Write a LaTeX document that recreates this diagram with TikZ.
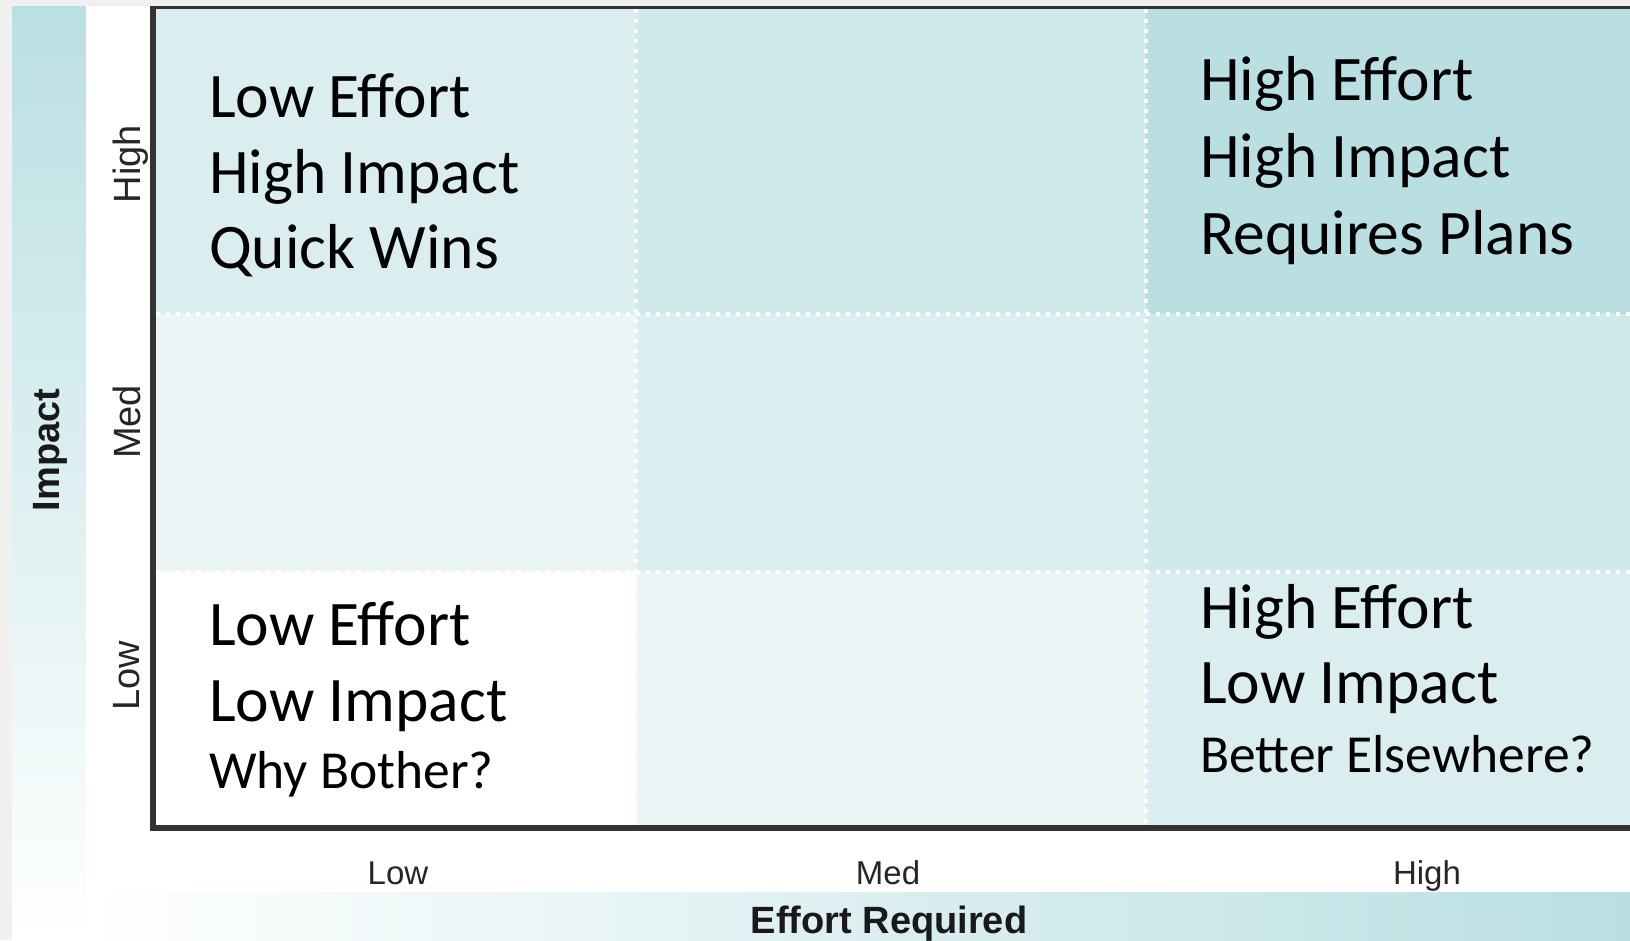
\documentclass[tikz,border=0pt]{standalone}
\usepackage{fontspec}
\setmainfont{Carlito}
\newfontfamily\arialf{Liberation Sans}
\definecolor{outerbg}{HTML}{F0F0F0}
\definecolor{teal}{HTML}{BADFE2}
\definecolor{tealmid}{HTML}{E4F2F3}
\definecolor{cA}{HTML}{DAEDEF}
\definecolor{cB}{HTML}{D0E9EA}
\definecolor{cC}{HTML}{BADFE2}
\definecolor{cD}{HTML}{ECF5F6}
\definecolor{framec}{HTML}{333333}
\tikzset{
  bigtxt/.style={font=\fontsize{63.5}{63.5}\selectfont, inner sep=0, anchor=base west, text=black},
  smalltxt/.style={font=\fontsize{53.5}{53.5}\selectfont, inner sep=0, anchor=base west, text=black},
  ticklbl/.style={font=\arialf\fontsize{33}{33}\selectfont, inner sep=0, anchor=base, text=black!85},
  sidelbl/.style={font=\arialf\fontsize{38}{38}\selectfont, inner sep=0, anchor=base, rotate=90, text=black!85},
  axislbl/.style={font=\arialf\bfseries\fontsize{38}{38}\selectfont, inner sep=0, anchor=base, text=black!90},
  gridline/.style={white, line width=4, dash pattern=on 4 off 6},
}
\begin{document}
\begin{tikzpicture}[x=1pt,y=-1pt]
\useasboundingbox (0,0) rectangle (1630,940);
% outer background
\fill[outerbg] (0,0) rectangle (1630,940);
% left gradient strip
\shade[top color=teal, middle color=tealmid, bottom color=white] (12,6) rectangle (86,940);
% white panel
\fill[white] (86,6) rectangle (1630,892);
% bottom gradient strip
\shade[left color=white, middle color=tealmid, right color=teal] (86,892) rectangle (1630,940);
% cells
\fill[cA] (156,9) rectangle (636,314);
\fill[cB] (636,9) rectangle (1146,314);
\fill[cC] (1146,9) rectangle (1630,314);
\fill[cD] (156,314) rectangle (636,572);
\fill[cA] (636,314) rectangle (1146,572);
\fill[cB] (1146,314) rectangle (1630,572);
\fill[white] (156,572) rectangle (636,825);
\fill[cD] (636,572) rectangle (1146,825);
\fill[cA] (1146,572) rectangle (1630,825);
% dotted grid
\draw[gridline] (636,9) -- (636,825);
\draw[gridline] (1146,9) -- (1146,825);
\draw[gridline] (156,314) -- (1630,314);
\draw[gridline] (156,572) -- (1630,572);
% frame
\draw[framec, line width=3] (150,7.5) -- (1630,7.5);
\draw[framec, line width=6] (153,6) -- (153,828) -- (1630,828);
% quadrant texts
\node[bigtxt] (tl1) at (209,117) {Low Effort};
\node[bigtxt] (tl2) at (209,193) {High Impact};
\node[bigtxt] (tl3) at (209,268) {Quick Wins};
\node[bigtxt] (tr1) at (1200,100) {High Effort};
\node[bigtxt] (tr2) at (1200,177) {High Impact};
\node[bigtxt] (tr3) at (1200,254) {Requires Plans};
\node[bigtxt] (bl1) at (209,645) {Low Effort};
\node[bigtxt] (bl2) at (209,721) {Low Impact};
\node[smalltxt] (bl3) at (209,788) {Why Bother?};
\node[bigtxt] (br1) at (1200,628) {High Effort};
\node[bigtxt] (br2) at (1200,703) {Low Impact};
\node[smalltxt] (br3) at (1200,772) {Better Elsewhere?};
% axis ticks
\node[sidelbl] (yhigh) at (140,164) {High};
\node[sidelbl] (ymed) at (140,422) {Med};
\node[sidelbl] (ylow) at (139,676) {Low};
\node[ticklbl] (xlow) at (398,884) {Low};
\node[ticklbl] (xmed) at (888,884) {Med};
\node[ticklbl] (xhigh) at (1427,884) {High};
% axis titles
\node[axislbl] (xtitle) at (889,933) {Effort Required};
\node[axislbl, rotate=90] (ytitle) at (59,450) {Impact};
\end{tikzpicture}
\end{document}
